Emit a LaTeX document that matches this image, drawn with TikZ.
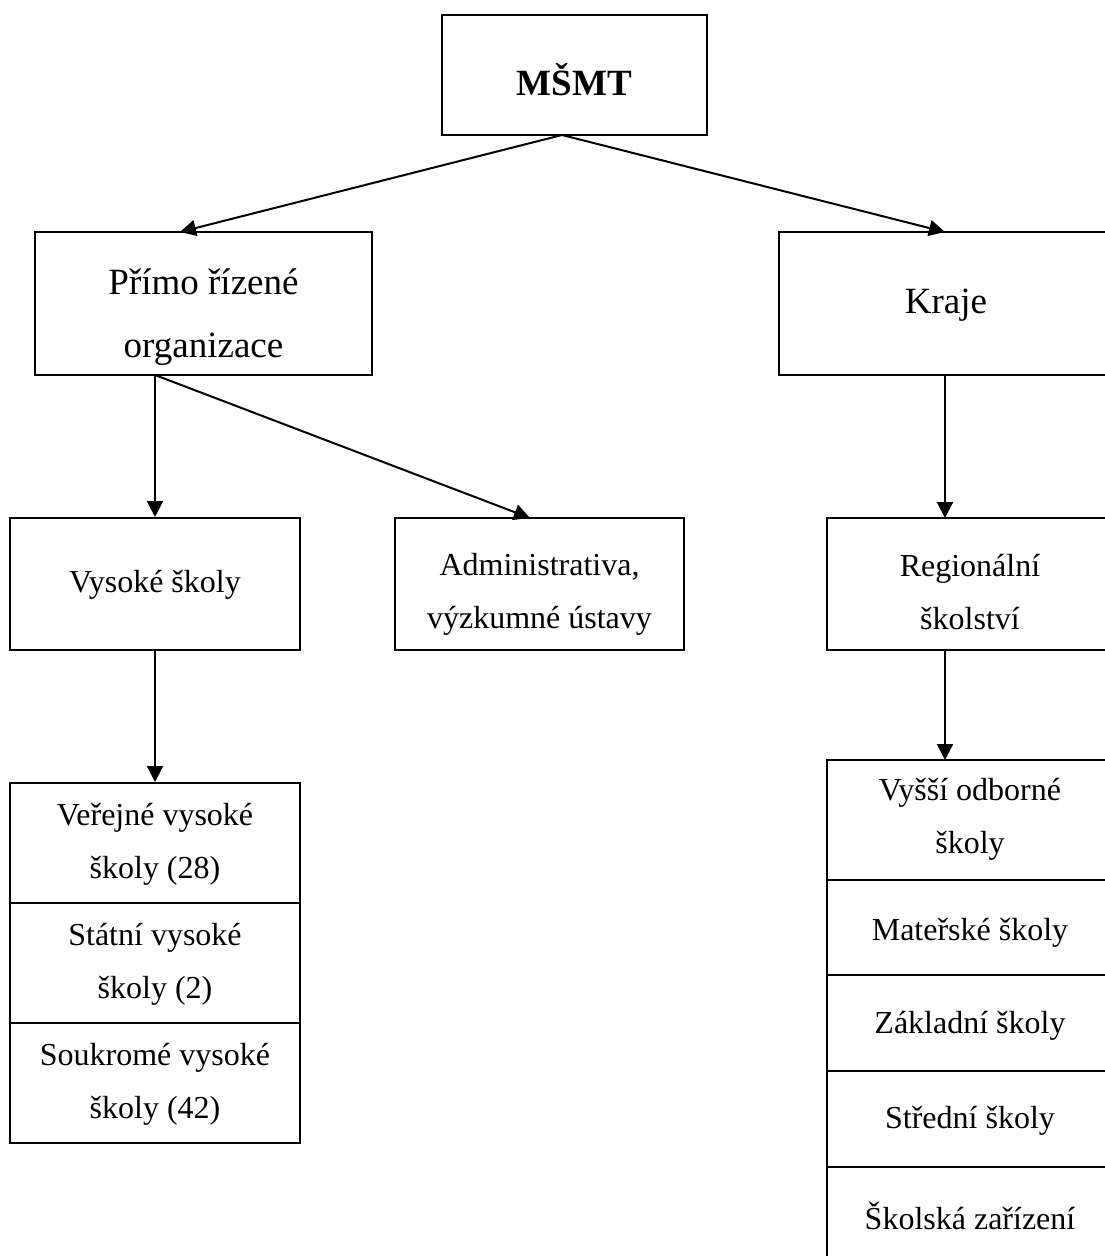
\documentclass[tikz,border=0pt]{standalone}
\usepackage{fontspec}
\setmainfont{Liberation Serif}
\usetikzlibrary{arrows.meta}
\begin{document}
\begin{tikzpicture}[x=1pt,y=-1pt,
  box/.style={draw,line width=2pt,rectangle,inner sep=0pt},
  txt/.style={inner sep=0pt,align=center},
  bigtxt/.style={txt,font=\fontsize{37}{63}\selectfont},
  smalltxt/.style={txt,font=\fontsize{32}{53}\selectfont},
  conn/.style={line width=2pt,-{Triangle[length=16pt,width=16pt]}}]
\clip (0,0) rectangle (1105,1256);
\fill[white] (0,0) rectangle (1105,1256);
% boxes
\node[box,minimum width=265pt,minimum height=120pt] (m) at (574.5,75) {};
\node[box,minimum width=337pt,minimum height=143pt] (p) at (203.5,303.5) {};
\node[box,minimum width=334pt,minimum height=143pt] (k) at (946,303.5) {};
\node[box,minimum width=290pt,minimum height=132pt] (v) at (155,584) {};
\node[box,minimum width=289pt,minimum height=132pt] (a) at (539.5,584) {};
\node[box,minimum width=286pt,minimum height=132pt] (r) at (970,584) {};
\node[box,minimum width=290pt,minimum height=120pt] (v1) at (155,843) {};
\node[box,minimum width=290pt,minimum height=120pt] (v2) at (155,963) {};
\node[box,minimum width=290pt,minimum height=120pt] (v3) at (155,1083) {};
\node[box,minimum width=286pt,minimum height=120pt] (r1) at (970,820) {};
\node[box,minimum width=286pt,minimum height=95pt] (r2) at (970,927.5) {};
\node[box,minimum width=286pt,minimum height=96pt] (r3) at (970,1023) {};
\node[box,minimum width=286pt,minimum height=96pt] (r4) at (970,1119) {};
\node[box,minimum width=286pt,minimum height=95pt] (r5) at (970,1214.5) {};
% texts
\node[txt,font=\fontsize{37}{44}\selectfont\bfseries,yshift=-5pt] (tm) at (m) {MŠMT};
\node[bigtxt,yshift=-14pt] (tp) at (p) {Přímo řízené\\organizace};
\node[bigtxt,yshift=-2pt] (tk) at (k) {Kraje};
\node[smalltxt,yshift=-1pt] (tv) at (v) {Vysoké školy};
\node[smalltxt,yshift=-10pt] (ta) at (a) {Administrativa,\\výzkumné ústavy};
\node[smalltxt,yshift=-8pt] (tr) at (r) {Regionální\\školství};
\node[smalltxt,yshift=-1pt] (tv1) at (v1) {Veřejné vysoké\\školy (28)};
\node[smalltxt,yshift=-1pt] (tv2) at (v2) {Státní vysoké\\školy (2)};
\node[smalltxt,yshift=-1pt] (tv3) at (v3) {Soukromé vysoké\\školy (42)};
\node[smalltxt,yshift=1pt] (tr1) at (r1) {Vyšší odborné\\školy};
\node[smalltxt,yshift=-5pt] (tr2) at (r2) {Mateřské školy};
\node[smalltxt,yshift=-3pt] (tr3) at (r3) {Základní školy};
\node[smalltxt,yshift=-2pt] (tr4) at (r4) {Střední školy};
\node[smalltxt,yshift=-1pt] (tr5) at (r5) {Školská zařízení};
% connectors
\coordinate (ms) at (562,135);
\coordinate (pn) at (180,232);
\coordinate (kn) at (945,232);
\coordinate (ps) at (155,375);
\coordinate (an) at (530,518);
\coordinate (ks) at (945,375);
\coordinate (rn) at (945,518);
\coordinate (rs) at (945,650);
\coordinate (r1n) at (945,760);
\draw[conn] (ms) -- (pn);
\draw[conn] (ms) -- (kn);
\draw[conn] (ps) -- (v.north);
\draw[conn] (ps) -- (an);
\draw[conn] (ks) -- (rn);
\draw[conn] (v.south) -- (v1.north);
\draw[conn] (rs) -- (r1n);
\end{tikzpicture}
\end{document}
